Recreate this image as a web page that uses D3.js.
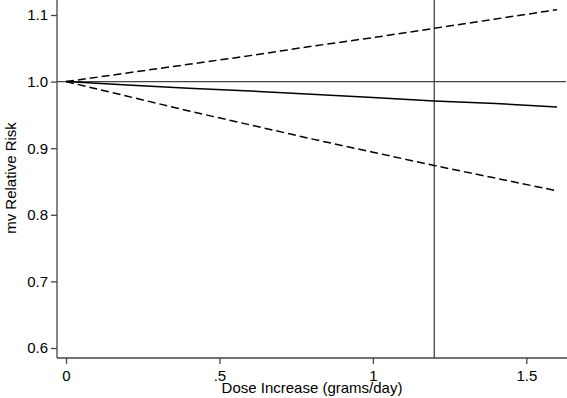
<!DOCTYPE html>
<html>
<head>
<meta charset="utf-8">
<script src="https://cdn.jsdelivr.net/npm/d3@7/dist/d3.min.js"></script>
<style>
  html, body { margin: 0; padding: 0; background: #fff; }
  svg { display: block; font-family: "Liberation Sans", Arial, sans-serif; }
</style>
</head>
<body>
<svg id="chart" width="567" height="398"></svg>
<script>
// Dose increase (grams/day) at which the curves are evaluated
const dose = [0, 0.2, 0.4, 0.6, 0.8, 1.0, 1.2, 1.4, 1.6];
// Multivariable relative risk estimate and its confidence limits
const rrEstimate = [1.000, 0.995, 0.990, 0.986, 0.981, 0.976, 0.971, 0.967, 0.962];
const rrUpper    = [1.000, 1.013, 1.026, 1.039, 1.053, 1.066, 1.080, 1.094, 1.108];
const rrLower    = [1.000, 0.978, 0.956, 0.935, 0.914, 0.894, 0.874, 0.855, 0.836];
// Axis ticks
const xTicks = [0, 0.5, 1, 1.5];
const xTickLabels = ["0", ".5", "1", "1.5"];
const yTicks = [0.6, 0.7, 0.8, 0.9, 1.0, 1.1];
const yTickLabels = ["0.6", "0.7", "0.8", "0.9", "1.0", "1.1"];
// Reference lines
const refRisk = 1.0;
const refDose = 1.2;

const svg = d3.select("#chart");
const W = 567, H = 398;
const axisX = 57, axisY = 358;
const axisColor = "#444";

const x = d3.scaleLinear().domain([0, 1.6]).range([66, 557]);
const y = d3.scaleLinear().domain([0.6, 1.1]).range([348, 15]);

// Reference lines
svg.append("line")
  .attr("x1", axisX).attr("x2", 566)
  .attr("y1", y(refRisk)).attr("y2", y(refRisk))
  .attr("stroke", axisColor).attr("stroke-width", 1.3);
svg.append("line")
  .attr("x1", x(refDose)).attr("x2", x(refDose))
  .attr("y1", 0).attr("y2", axisY)
  .attr("stroke", axisColor).attr("stroke-width", 1.3);

// Curves
const line = d3.line().x((d, i) => x(dose[i])).y(d => y(d));
const series = [
  { values: rrUpper, dash: "8,4" },
  { values: rrLower, dash: "8,4" },
  { values: rrEstimate, dash: null }
];
series.forEach(s => {
  svg.append("path")
    .attr("d", line(s.values))
    .attr("fill", "none")
    .attr("stroke", "#000")
    .attr("stroke-width", 1.5)
    .attr("stroke-dasharray", s.dash);
});

// Axis lines
svg.append("line")
  .attr("x1", axisX).attr("x2", axisX).attr("y1", 0).attr("y2", axisY)
  .attr("stroke", axisColor).attr("stroke-width", 1.3);
svg.append("line")
  .attr("x1", axisX).attr("x2", W).attr("y1", axisY).attr("y2", axisY)
  .attr("stroke", axisColor).attr("stroke-width", 1.3);

// Y axis ticks
const yAxis = d3.axisLeft(y).tickValues(yTicks)
  .tickFormat((d, i) => yTickLabels[i]).tickSize(6).tickPadding(3);
const gy = svg.append("g").attr("transform", `translate(${axisX},0)`).call(yAxis);
gy.select(".domain").remove();
gy.selectAll(".tick line").attr("stroke", axisColor).attr("stroke-width", 1.3);
gy.selectAll(".tick text").attr("fill", "#000")
  .style("font-size", "15px").style("font-family", "'Liberation Sans', Arial, sans-serif");

// X axis ticks
const xAxis = d3.axisBottom(x).tickValues(xTicks)
  .tickFormat((d, i) => xTickLabels[i]).tickSize(6).tickPadding(6);
const gx = svg.append("g").attr("transform", `translate(0,${axisY})`).call(xAxis);
gx.select(".domain").remove();
gx.selectAll(".tick line").attr("stroke", axisColor).attr("stroke-width", 1.3);
gx.selectAll(".tick text").attr("fill", "#000")
  .style("font-size", "15px").style("font-family", "'Liberation Sans', Arial, sans-serif");

// Axis titles
svg.append("text")
  .attr("x", 312).attr("y", 393)
  .attr("text-anchor", "middle")
  .style("font-size", "15px")
  .text("Dose Increase (grams/day)");
svg.append("text")
  .attr("transform", "translate(16,178) rotate(-90)")
  .attr("text-anchor", "middle")
  .style("font-size", "15px")
  .text("mv Relative Risk");
</script>
</body>
</html>
